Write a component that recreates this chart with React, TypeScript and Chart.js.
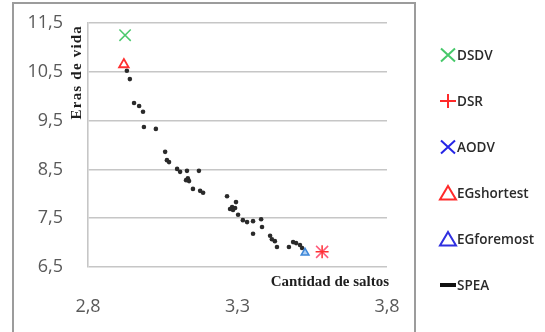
import React, { useEffect, useRef } from 'react';
import { Chart, registerables } from 'chart.js';

Chart.register(...registerables);

// ---- data ----
const seriesNames = ['DSDV', 'DSR', 'AODV', 'EGshortest', 'EGforemost', 'SPEA'];
const dsdvPoint = [2.924, 11.25];
const dsrPoint = [3.583, 6.81];
const aodvPoint = [3.583, 6.81];
const egShortestPoint = [2.92, 10.65];
const egForemostPoint = [3.526, 6.79];

const speaX = [
  2.930, 2.940, 2.954, 2.971, 2.984, 2.987, 3.027, 3.058, 3.064, 3.071,
  3.098, 3.108, 3.131, 3.171, 3.134, 3.138, 3.128, 3.151, 3.175, 3.185,
  3.265, 3.295, 3.282, 3.275, 3.285, 3.292, 3.302, 3.318, 3.332, 3.352,
  3.379, 3.382, 3.352, 3.409, 3.415, 3.425, 3.432, 3.472, 3.486, 3.496,
  3.509, 3.516,
];
const speaY = [
  10.52, 10.35, 9.86, 9.80, 9.68, 9.37, 9.33, 8.86, 8.69, 8.65,
  8.51, 8.45, 8.47, 8.47, 8.32, 8.26, 8.28, 8.10, 8.06, 8.02,
  7.95, 7.83, 7.73, 7.69, 7.67, 7.71, 7.57, 7.46, 7.42, 7.44,
  7.48, 7.32, 7.18, 7.14, 7.07, 7.03, 6.91, 6.91, 7.01, 6.99,
  6.95, 6.89,
];

const xTickValues = [2.8, 3.3, 3.8];
const yTickValues = [6.5, 7.5, 8.5, 9.5, 10.5, 11.5];
const xTitle = 'Cantidad de saltos';
const yTitle = 'Eras de vida';

const fmt = (v: number) => v.toFixed(1).replace('.', ',');
const pt = (p: number[]) => [{ x: p[0], y: p[1] }];

const legendColors = ['#47c86a', '#ff2a2a', '#2525e6', '#ff2a2a', '#2f2fe0', '#111111'];

const framePlugin = {
  id: 'frame',
  beforeDraw(chart: any) {
    const ctx = chart.ctx;
    ctx.save();
    ctx.fillStyle = '#ffffff';
    ctx.fillRect(0, 0, chart.width, chart.height);
    ctx.strokeStyle = '#9c9c9c';
    ctx.lineWidth = 2;
    ctx.strokeRect(13, 3, 402, 345);
    ctx.restore();
  },
};

const titlesPlugin = {
  id: 'innerTitles',
  afterDraw(chart: any) {
    const ctx = chart.ctx;
    const a = chart.chartArea;
    ctx.save();
    ctx.fillStyle = '#1e1e1e';
    ctx.font = 'bold 15px "Liberation Serif"';
    ctx.textAlign = 'right';
    ctx.textBaseline = 'middle';
    ctx.fillText(xTitle, a.right + 2, a.bottom + 15);
    ctx.translate(a.left - 11, a.top + 2);
    ctx.rotate(-Math.PI / 2);
    (ctx as any).letterSpacing = '1.2px';
    ctx.fillText(yTitle, 0, 0);
    ctx.restore();
  },
};

const legendPlugin = {
  id: 'sideLegend',
  afterDraw(chart: any) {
    const ctx = chart.ctx;
    const cx = 448;
    const textX = 457;
    const y0 = 55;
    const step = 46;
    chart.data.datasets.forEach((ds: any, i: number) => {
      const y = y0 + i * step;
      ctx.save();
      ctx.strokeStyle = legendColors[i];
      ctx.fillStyle = legendColors[i];
      ctx.lineWidth = 2;
      ctx.beginPath();
      if (ds.pointStyle === 'crossRot') {
        ctx.moveTo(cx - 7, y - 6.5);
        ctx.lineTo(cx + 7, y + 6.5);
        ctx.moveTo(cx + 7, y - 6.5);
        ctx.lineTo(cx - 7, y + 6.5);
        ctx.stroke();
      } else if (ds.pointStyle === 'cross') {
        ctx.moveTo(cx - 8, y);
        ctx.lineTo(cx + 8, y);
        ctx.moveTo(cx, y - 7);
        ctx.lineTo(cx, y + 7);
        ctx.stroke();
      } else if (ds.pointStyle === 'triangle') {
        ctx.moveTo(cx, y - 7);
        ctx.lineTo(cx + 8, y + 6.5);
        ctx.lineTo(cx - 8, y + 6.5);
        ctx.closePath();
        ctx.stroke();
      } else {
        ctx.fillRect(cx - 8, y - 2, 16, 4);
      }
      ctx.fillStyle = '#2a2a2a';
      ctx.font = '600 13.5px "Open Sans"';
      ctx.textAlign = 'left';
      ctx.textBaseline = 'middle';
      ctx.fillText(ds.label, textX, y + 1);
      ctx.restore();
    });
  },
};

export default function App() {
  const ref = useRef<HTMLCanvasElement | null>(null);

  useEffect(() => {
    if (!ref.current) return;
    const chart = new Chart(ref.current, {
      type: 'scatter',
      data: {
        datasets: [
          {
            label: seriesNames[0],
            data: pt(dsdvPoint),
            pointStyle: 'crossRot',
            pointRadius: 8,
            borderColor: '#4cc96e',
            backgroundColor: '#4cc96e',
            borderWidth: 1.5,
          },
          {
            label: seriesNames[1],
            data: pt(dsrPoint),
            pointStyle: 'cross',
            pointRadius: 6.5,
            borderColor: '#ff3030',
            backgroundColor: '#ff3030',
            borderWidth: 1.5,
          },
          {
            label: seriesNames[2],
            data: pt(aodvPoint),
            pointStyle: 'crossRot',
            pointRadius: 8.5,
            borderColor: '#ff5a7a',
            backgroundColor: '#ff5a7a',
            borderWidth: 1.5,
          },
          {
            label: seriesNames[3],
            data: pt(egShortestPoint),
            pointStyle: 'triangle',
            pointRadius: 5.5,
            borderColor: '#ff3030',
            backgroundColor: 'rgba(255,255,255,0)',
            borderWidth: 1.8,
          },
          {
            label: seriesNames[4],
            data: pt(egForemostPoint),
            pointStyle: 'triangle',
            pointRadius: 4.5,
            borderColor: '#3d86d8',
            backgroundColor: 'rgba(120,175,235,0.6)',
            borderWidth: 1.5,
          },
          {
            label: seriesNames[5],
            data: speaX.map((x, i) => ({ x, y: speaY[i] })),
            pointStyle: 'circle',
            pointRadius: 2.3,
            borderWidth: 0,
            backgroundColor: '#2a2a2a',
            borderColor: '#2a2a2a',
          },
        ],
      },
      options: {
        animation: false,
        responsive: false,
        maintainAspectRatio: false,
        layout: { padding: { top: 23, right: 158, bottom: 0, left: 0 } },
        plugins: {
          legend: { display: false },
          tooltip: { enabled: false },
          title: { display: false },
        },
        scales: {
          x: {
            type: 'linear',
            min: 2.8,
            max: 3.8,
            afterBuildTicks: (s: any) => {
              s.ticks = xTickValues.map((v) => ({ value: v }));
            },
            afterFit: (s: any) => {
              s.height = 65;
            },
            grid: { display: false, drawTicks: false },
            border: { display: false },
            ticks: {
              padding: 29,
              color: '#595959',
              font: { family: '"Open Sans"', size: 18 },
              callback: (v: any) => fmt(Number(v)),
              maxRotation: 0,
              autoSkip: false,
            },
          },
          y: {
            type: 'linear',
            min: 6.5,
            max: 11.5,
            afterBuildTicks: (s: any) => {
              s.ticks = yTickValues.map((v) => ({ value: v }));
            },
            afterFit: (s: any) => {
              s.width = 88;
            },
            grid: {
              color: '#c6c6c6',
              lineWidth: 1.6,
              drawTicks: true,
              tickLength: 25,
              tickColor: 'rgba(0,0,0,0)',
            },
            border: { display: true, color: '#c6c6c6', width: 1.6 },
            ticks: {
              padding: 0,
              color: '#595959',
              font: { family: '"Open Sans"', size: 18 },
              callback: (v: any) => fmt(Number(v)),
              autoSkip: false,
            },
          },
        },
      },
      plugins: [framePlugin, titlesPlugin, legendPlugin],
    });
    return () => chart.destroy();
  }, []);

  return (
    <div style={{ position: 'fixed', left: 0, top: 0, width: 545, height: 332, background: '#fff' }}>
      <canvas ref={ref} width={545} height={332} style={{ width: 545, height: 332, display: 'block' }} />
    </div>
  );
}
